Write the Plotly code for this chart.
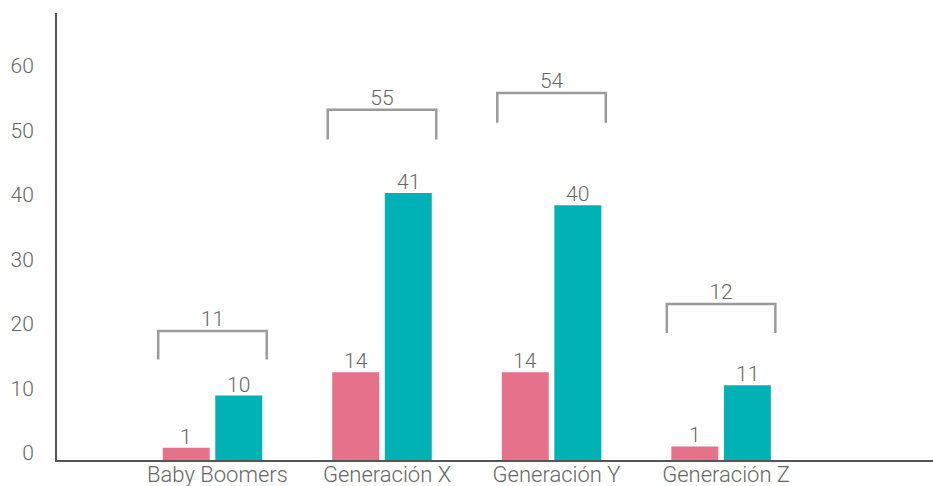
import plotly.graph_objects as go

categories = ["Baby Boomers", "Generación X", "Generación Y", "Generación Z"]
pink_values = [1.9, 13.6, 13.6, 2.1]
teal_values = [10.0, 41.4, 39.5, 11.6]
pink_labels = ["1", "14", "14", "1"]
teal_labels = ["10", "41", "40", "11"]
total_labels = ["11", "55", "54", "12"]
bracket_top = [20.0, 54.3, 56.9, 24.2]
bracket_bottom = [15.6, 49.7, 52.3, 19.7]
y_ticks = [0, 10, 20, 30, 40, 50, 60]

PINK = "#E5718A"
TEXT = "#666666"
TEAL = "#00B2B5"
AXIS = "#555555"
BRACKET = "#9B9B9D"
FONT = "Roboto"
FS = 21
tf = dict(family=FONT, size=FS, color=TEXT, weight=300)

xs = list(range(len(categories)))
off = 0.155
bw = 0.277
half = 0.32

fig = go.Figure()
for vals, labels, color, sign in [(pink_values, pink_labels, PINK, -1),
                                  (teal_values, teal_labels, TEAL, 1)]:
    bx = [x + sign * off for x in xs]
    fig.add_trace(go.Bar(
        x=bx, y=vals, width=bw, marker_color=color, marker_line_width=0,
        hoverinfo="skip"))
    for xv, yv, lab in zip(bx, vals, labels):
        fig.add_annotation(x=xv, y=yv, text=lab, showarrow=False,
                           xanchor="center", yanchor="middle", yshift=11,
                           font=tf)

for i, x in enumerate(xs):
    fig.add_trace(go.Scatter(
        x=[x - half, x - half, x + half, x + half],
        y=[bracket_bottom[i], bracket_top[i], bracket_top[i], bracket_bottom[i]],
        mode="lines", line=dict(color=BRACKET, width=2.5), hoverinfo="skip",
        cliponaxis=False))
    fig.add_trace(go.Scatter(
        x=[x], y=[bracket_top[i]], mode="text", text=[total_labels[i]],
        textposition="top center", textfont=tf, hoverinfo="skip",
        cliponaxis=False))

fig.update_layout(
    width=933, height=486,
    margin=dict(l=57, r=0, t=13, b=26),
    plot_bgcolor="white", paper_bgcolor="white",
    showlegend=False, barmode="overlay",
    font=tf,
)
fig.update_xaxes(
    range=[-0.917, 4.25], tickmode="array", tickvals=xs, ticktext=categories,
    showgrid=False, zeroline=False, showline=True, linecolor=AXIS, linewidth=2,
    ticks="", automargin=False, tickfont=dict(tf, size=22),
    ticklabelstandoff=-6, ticklabelshift=5)
fig.update_yaxes(
    range=[0, 69.3], tickmode="array", tickvals=y_ticks,
    showgrid=False, zeroline=False, showline=True, linecolor=AXIS, linewidth=2,
    ticks="", ticklabelposition="outside", ticklabelstandoff=17,
    ticklabelshift=-7, automargin=False, tickfont=tf)

fig.write_html("out.html", config={"displayModeBar": False},
               post_script="document.body.style.margin='0';document.body.style.padding='0';")
